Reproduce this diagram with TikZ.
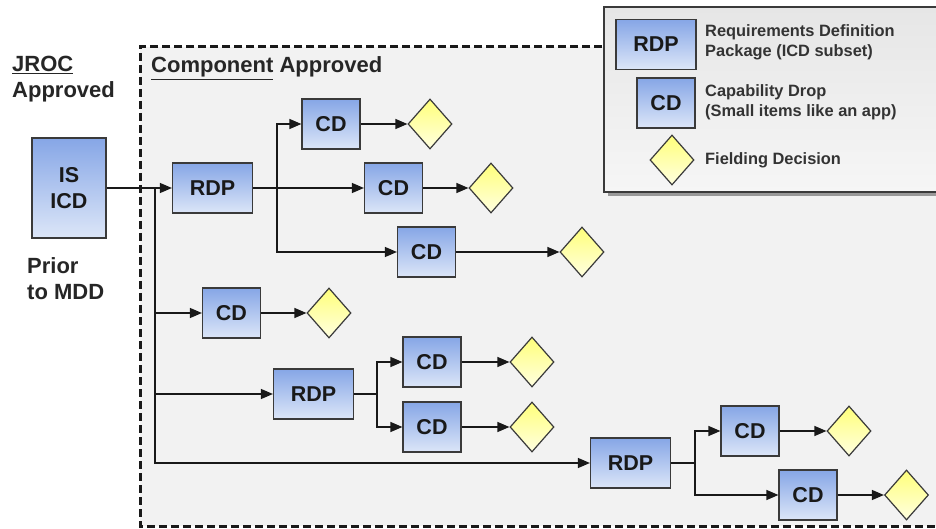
\documentclass[tikz,border=0pt]{standalone}
\usepackage{fontspec}
\setmainfont{Liberation Sans}
\usetikzlibrary{arrows.meta,shapes.geometric}
\definecolor{boxtop}{HTML}{86A6E6}
\definecolor{boxbot}{HTML}{DCE6F8}
\definecolor{dtop}{HTML}{FFFF7A}
\definecolor{dbot}{HTML}{FFFFE0}
\definecolor{edge}{HTML}{3A3A3A}
\definecolor{panel}{HTML}{F2F2F2}
\definecolor{legtop}{HTML}{E6E6E6}
\definecolor{legbot}{HTML}{F6F6F6}
\begin{document}
\begin{tikzpicture}[x=1pt,y=-1pt,
  box/.style={draw=edge, line width=1.2pt, top color=boxtop, bottom color=boxbot, font=\fontsize{21.5}{26}\selectfont\bfseries, inner sep=0pt, align=center, text=black!90},
  rdp/.style={box, minimum width=80pt, minimum height=50pt},
  cd/.style={box, minimum width=58pt, minimum height=50pt},
  fd/.style={diamond, draw=edge, line width=1.2pt, top color=dtop, bottom color=dbot, minimum width=44pt, minimum height=50pt, inner sep=0pt, aspect=0.88},
  arr/.style={-{Triangle[length=12pt,width=10pt]}, line width=1.3pt, draw=black!90},
  ln/.style={line width=1.3pt, draw=black!90},
  lbl/.style={font=\fontsize{22}{25}\selectfont\bfseries, anchor=base west, inner sep=0pt, text=black!85},
  leg/.style={font=\fontsize{16.4}{20}\selectfont\bfseries, anchor=base west, inner sep=0pt, text=black!80}
]
\clip (0,0) rectangle (936,529);
\fill[white] (0,0) rectangle (936,529);
% approval panel
\fill[panel] (140,47) rectangle (950,526);
\draw[line width=3pt, dash pattern=on 8pt off 4pt, black!90] (950,47) -- (140,47) -- (140,526) -- (950,526);
% legend
\fill[black!40] (608,11) rectangle (950,196);
\draw[edge, line width=1.4pt, top color=legtop, bottom color=legbot] (604,7) rectangle (950,192);

% labels
\node[lbl] (jroc) at (12,72) {\underline{JROC}};
\node[lbl] (appr) at (12,98) {Approved};
\node[lbl] (prior) at (27,273) {Prior};
\node[lbl] (mdd) at (27,299) {to MDD};
\node[lbl] (comp) at (151,73) {\underline{Component} Approved};

% nodes
\node[box, minimum width=74pt, minimum height=100pt] (icd) at (69,188) {IS\\ICD};
\node[rdp] (r1) at (212.5,188) {RDP};
\node[cd] (c1) at (331,124) {CD};
\node[fd] (d1) at (430,124) {};
\node[cd] (c2) at (393.5,188) {CD};
\node[fd] (d2) at (491,188) {};
\node[cd] (c3) at (426.5,252) {CD};
\node[fd] (d3) at (582,252) {};
\node[cd] (c4) at (231.5,313) {CD};
\node[fd] (d4) at (329,313) {};
\node[rdp] (r2) at (313.5,394) {RDP};
\node[cd] (c5) at (432,362) {CD};
\node[fd] (d5) at (532,362) {};
\node[cd] (c6) at (432,427) {CD};
\node[fd] (d6) at (532,427) {};
\node[rdp] (r3) at (630.5,463) {RDP};
\node[cd] (c7) at (750,431) {CD};
\node[fd] (d7) at (849,431) {};
\node[cd] (c8) at (808,495) {CD};
\node[fd] (d8) at (906.5,495) {};

% connectors
\coordinate (t0) at (155,188);
\coordinate (s1) at (277,188);
\coordinate (s2) at (377,394);
\coordinate (s3) at (695,463);
\draw[arr] (icd.east) -- (r1.west);
\draw[arr] (t0) |- (r3.west);
\draw[arr] (t0 |- c4.west) -- (c4.west);
\draw[arr] (t0 |- r2.west) -- (r2.west);
\draw[arr] (r1.east) -- (c2.west);
\draw[arr] (s1) |- (c1.west);
\draw[arr] (s1) |- (c3.west);
\draw[ln] (r2.east) -- (s2);
\draw[arr] (s2) |- (c5.west);
\draw[arr] (s2) |- (c6.west);
\draw[ln] (r3.east) -- (s3);
\draw[arr] (s3) |- (c7.west);
\draw[arr] (s3) |- (c8.west);
\foreach \c/\d in {c1/d1,c2/d2,c3/d3,c4/d4,c5/d5,c6/d6,c7/d7,c8/d8}
  \draw[arr] (\c.east) -- (\d.west);

% legend content
\node[rdp] (lr) at (656,44.5) {RDP};
\node[cd] (lc) at (666,103) {CD};
\node[fd] (ld) at (672,160) {};
\node[leg] (lt1) at (705,37) {Requirements Definition};
\node[leg] (lt2) at (705,57) {Package (ICD subset)};
\node[leg] (lt3) at (705,97) {Capability Drop};
\node[leg] (lt4) at (705,117) {(Small items like an app)};
\node[leg] (lt5) at (705,165) {Fielding Decision};
\end{tikzpicture}
\end{document}
